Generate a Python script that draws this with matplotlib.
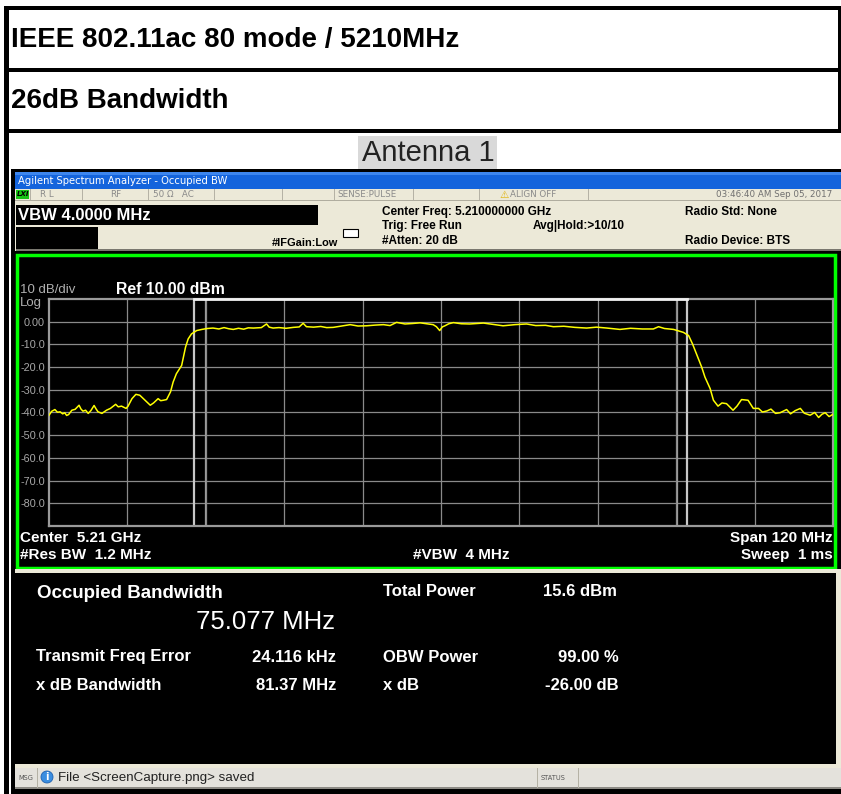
import matplotlib
matplotlib.use("Agg")
import matplotlib.pyplot as plt
from matplotlib.patches import Rectangle, Circle

# trace (MHz, dBm)
freq_mhz = [5150.0, 5150.4, 5150.9, 5151.3, 5151.7, 5152.1, 5152.4, 5152.7, 5153.0, 5153.5,
            5154.0, 5154.6, 5154.9, 5155.2, 5155.6, 5156.0, 5156.4, 5156.9, 5157.2, 5157.5,
            5158.1, 5158.8, 5159.4, 5160.2, 5160.6, 5161.1, 5161.8, 5162.1, 5162.7, 5163.3,
            5163.9, 5164.7, 5165.5, 5166.0, 5166.7, 5167.1, 5167.5, 5168.0, 5168.6, 5169.0,
            5169.5, 5170.3, 5170.6, 5170.9, 5171.3, 5171.8, 5172.6, 5173.4, 5174.2, 5175.1,
            5176.0, 5176.8, 5177.5, 5178.2, 5179.0, 5179.8, 5180.5, 5181.3, 5182.5, 5183.3,
            5183.7, 5184.3, 5185.2, 5186.3, 5187.4, 5188.3, 5188.9, 5189.4, 5190.5, 5191.6,
            5192.5, 5193.5, 5194.8, 5196.1, 5197.3, 5198.6, 5199.9, 5201.2, 5202.2, 5203.2,
            5204.5, 5205.6, 5206.8, 5207.8, 5208.8, 5209.3, 5209.8, 5210.2, 5210.6, 5211.2,
            5211.9, 5213.1, 5214.4, 5215.5, 5216.5, 5218.0, 5219.5, 5221.3, 5223.1, 5224.5,
            5226.0, 5227.2, 5228.8, 5230.5, 5232.3, 5233.8, 5235.4, 5237.4, 5239.0, 5240.8,
            5242.5, 5243.3, 5244.2, 5245.6, 5247.1, 5247.9, 5248.5, 5249.1, 5249.9, 5250.4,
            5251.2, 5251.7, 5252.4, 5253.0, 5253.7, 5254.7, 5255.3, 5256.0, 5257.0, 5257.8,
            5258.6, 5259.2, 5259.9, 5260.5, 5261.2, 5261.9, 5262.9, 5263.5, 5264.2, 5265.0,
            5265.6, 5266.5, 5267.2, 5267.8, 5268.3, 5268.8, 5269.4, 5270.0]
level_dbm = [-41.2, -39.5, -38.7, -39.9, -39.7, -40.6, -40.1, -41.3, -40.9, -39.0,
             -38.6, -36.8, -38.5, -39.4, -39.0, -40.4, -39.2, -36.9, -38.4, -39.7,
             -40.4, -39.0, -38.2, -36.4, -37.5, -37.2, -38.2, -37.2, -33.9, -32.0,
             -32.4, -34.6, -36.8, -35.8, -33.9, -34.8, -34.6, -34.3, -30.9, -26.6,
             -22.9, -19.3, -15.3, -11.2, -7.6, -5.4, -3.9, -3.4, -3.0, -2.8,
             -3.2, -2.6, -3.1, -3.4, -2.9, -3.3, -2.7, -2.8, -2.6, -1.0,
             -2.4, -2.8, -2.6, -2.9, -2.5, -2.3, -0.7, -2.2, -2.4, -2.1,
             -2.6, -2.5, -1.9, -1.3, -1.9, -1.8, -1.5, -1.3, -1.7, -0.3,
             -1.0, -0.8, -0.5, -0.9, -1.3, -2.2, -3.9, -2.3, -1.8, -0.9,
             -0.4, -0.9, -1.0, -0.8, -0.6, -1.2, -1.8, -1.3, -1.0, -1.7,
             -1.6, -2.2, -2.0, -2.5, -2.8, -2.4, -2.8, -3.4, -2.9, -3.2,
             -3.2, -2.2, -3.0, -3.4, -4.7, -6.1, -9.8, -14.2, -20.0, -24.4,
             -29.5, -34.6, -37.2, -35.8, -36.1, -39.0, -37.2, -34.3, -34.6, -38.2,
             -38.2, -39.8, -39.3, -38.5, -40.4, -40.1, -38.7, -40.6, -39.2, -38.2,
             -40.3, -41.2, -40.0, -42.2, -40.8, -40.1, -41.8, -40.8]

# OBW / x dB marker lines
outer_markers_mhz = [5172.2, 5247.65]
inner_markers_mhz = [5173.9, 5246.1]

y_ticks = [0, -10, -20, -30, -40, -50, -60, -70, -80]
y_tick_labels = ["0.00", "-10.0", "-20.0", "-30.0", "-40.0", "-50.0", "-60.0", "-70.0", "-80.0"]
x_grid = [5162, 5174, 5186, 5198, 5210, 5222, 5234, 5246, 5258]

W, H = 841, 794
fig = plt.figure(figsize=(W / 100, H / 100), dpi=100)
fig.patch.set_facecolor("white")

bg = fig.add_axes([0, 0, 1, 1])
bg.set_xlim(0, W)
bg.set_ylim(H, 0)
bg.axis("off")

def box(x0, y0, x1, y1, color, **kw):
    bg.add_patch(Rectangle((x0, y0), x1 - x0, y1 - y0, facecolor=color, edgecolor="none", **kw))

def txt(x, y, s, size, color="black", weight="normal", ha="left", family="Liberation Sans", **kw):
    bg.text(x, y, s, fontsize=size, color=color, fontweight=weight, ha=ha, va="center",
            family=family, **kw)

# --- table frame ---
box(4, 6, 841, 10, "black")
box(4, 6, 9, 794, "black")
box(4, 68, 841, 72, "black")
box(4, 129, 841, 133, "black")
box(838, 6, 841, 133, "black")
txt(11, 40, "IEEE 802.11ac 80 mode / 5210MHz", 20, weight="bold")
txt(11, 101, "26dB Bandwidth", 20, weight="bold")
box(358, 136, 497, 169, "#d9d9d9")
txt(428, 153, "Antenna 1", 21, color="#222222", ha="center")

# --- analyzer screenshot ---
box(11, 169, 841, 794, "black")
box(15, 172, 841, 189, "#1464dc")
box(15, 172, 841, 175, "#3d86ee")
txt(18, 181.5, "Agilent Spectrum Analyzer - Occupied BW", 7.2, color="white", family="DejaVu Sans")
box(15, 189, 841, 251, "#ece9d8")
box(15, 200, 841, 201, "#b0ad9f")
for sx in [30, 82, 148, 214, 282, 334, 413, 479, 588]:
    box(sx, 189, sx + 1, 200, "#b5b2a5")
box(16, 190, 29, 199, "#16c416")
txt(17, 194.5, "LXI", 5, color="black", weight="bold", family="DejaVu Sans", style="italic")
stat = "#8a8a8a"
txt(40, 194.5, "R L", 6.3, color=stat, family="DejaVu Sans")
txt(110, 194.5, "RF", 6.3, color=stat, family="DejaVu Sans")
txt(153, 194.5, "50 \u03a9   AC", 6.3, color=stat, family="DejaVu Sans")
txt(337, 194.5, "SENSE:PULSE", 6.3, color=stat, family="DejaVu Sans")
txt(499, 194.5, "\u26a0", 7.5, color="#e0b000", family="DejaVu Sans")
txt(510, 194.5, "ALIGN OFF", 6.3, color=stat, family="DejaVu Sans")
txt(832, 194.5, "03:46:40 AM Sep 05, 2017", 6.3, color="#707070", ha="right", family="DejaVu Sans")

box(16, 205, 318, 225, "black")
txt(18, 215.5, "VBW 4.0000 MHz", 12, color="white", weight="bold")
box(16, 227, 98, 250, "black")
box(16, 249, 841, 251, "#7a786f")
txt(272, 243, "#IFGain:Low", 7.9, weight="bold")
bg.add_patch(Rectangle((343, 229), 15, 8, facecolor="white", edgecolor="black", lw=0.8))
txt(382, 212, "Center Freq: 5.210000000 GHz", 8.5, weight="bold")
txt(382, 226.5, "Trig: Free Run", 8.5, weight="bold")
txt(382, 241, "#Atten: 20 dB", 8.5, weight="bold")
txt(533, 226.5, "Avg|Hold:>10/10", 8.5, weight="bold")
txt(685, 212, "Radio Std: None", 8.5, weight="bold")
txt(685, 241, "Radio Device: BTS", 8.5, weight="bold")

# green trace panel
bg.add_patch(Rectangle((17.5, 254.5), 818, 313, facecolor="black", edgecolor="#00ff00", lw=2.5))
txt(20, 290, "10 dB/div", 9.5, color="#b0b0b0")
txt(20, 303, "Log", 9.5, color="#b0b0b0")
txt(116, 289, "Ref 10.00 dBm", 11.3, color="white", weight="bold")
txt(20, 538, "Center  5.21 GHz", 11, color="white", weight="bold")
txt(833, 538, "Span 120 MHz", 11, color="white", weight="bold", ha="right")
txt(20, 555, "#Res BW  1.2 MHz", 11, color="white", weight="bold")
txt(413, 555, "#VBW  4 MHz", 11, color="white", weight="bold")
txt(833, 555, "Sweep  1 ms", 11, color="white", weight="bold", ha="right")

# results panel
box(15, 569, 841, 573, "#ece9d8")
box(15, 764, 841, 768, "#ece9d8")
box(836, 569, 841, 768, "#ece9d8")
txt(37, 594, "Occupied Bandwidth", 13.5, color="white", weight="bold")
txt(335, 622, "75.077 MHz", 18.5, color="white", ha="right")
txt(383, 592, "Total Power", 12, color="white", weight="bold")
txt(543, 592, "15.6 dBm", 12, color="white", weight="bold")
txt(36, 657, "Transmit Freq Error", 12, color="white", weight="bold")
txt(336, 657, "24.116 kHz", 12, color="white", weight="bold", ha="right")
txt(383, 657, "OBW Power", 12, color="white", weight="bold")
txt(619, 657, "99.00 %", 12, color="white", weight="bold", ha="right")
txt(36, 685, "x dB Bandwidth", 12, color="white", weight="bold")
txt(336, 685, "81.37 MHz", 12, color="white", weight="bold", ha="right")
txt(383, 685, "x dB", 12, color="white", weight="bold")
txt(619, 685, "-26.00 dB", 12, color="white", weight="bold", ha="right")

# message bar
box(15, 768, 841, 788, "#e4e2dc")
box(15, 787, 841, 789, "#8c8a84")
for sx in [37, 537, 578]:
    box(sx, 768, sx + 1, 788, "#b5b2a5")
txt(18, 778, "MSG", 4.8, color="#555555", family="DejaVu Sans")
bg.add_patch(Circle((47, 777), 6, facecolor="#3a8de0", edgecolor="#1c5fb0", lw=0.6))
txt(47, 777, "i", 7, color="white", weight="bold", ha="center", family="DejaVu Sans")
txt(58, 778, "File <ScreenCapture.png> saved", 9.6, color="#222222")
txt(541, 778, "STATUS", 4.8, color="#555555", family="DejaVu Sans")

# --- spectrum plot ---
px_l, px_r, px_t, px_b = 49, 833, 299, 526
ax = fig.add_axes([px_l / W, (H - px_b) / H, (px_r - px_l) / W, (px_b - px_t) / H])
ax.set_facecolor("black")
ax.set_xlim(5150, 5270)
ax.set_ylim(-90, 10)
ax.set_xticks(x_grid)
ax.set_yticks(y_ticks)
ax.set_yticklabels(y_tick_labels)
ax.tick_params(axis="x", length=0, labelbottom=False)
ax.tick_params(axis="y", length=0, pad=3, labelsize=7.8, labelcolor="#a8a8a8")
for lab in ax.get_yticklabels():
    lab.set_family("Liberation Sans")
ax.grid(True, color="#8a8a8a", lw=0.9)
for sp in ax.spines.values():
    sp.set_color("#9a9a9a")
    sp.set_linewidth(1.6)
for m in outer_markers_mhz:
    ax.axvline(m, color="#c8c8c8", lw=1.6)
for m in inner_markers_mhz:
    ax.axvline(m, color="#9a9a9a", lw=0.9)
ax.plot(outer_markers_mhz, [10, 10], color="#f0f0f0", lw=2, clip_on=False, zorder=5)
ax.plot(freq_mhz, level_dbm, color="#ffff00", lw=1.1, zorder=6)

fig.savefig("out.png", dpi=100, facecolor="white")
